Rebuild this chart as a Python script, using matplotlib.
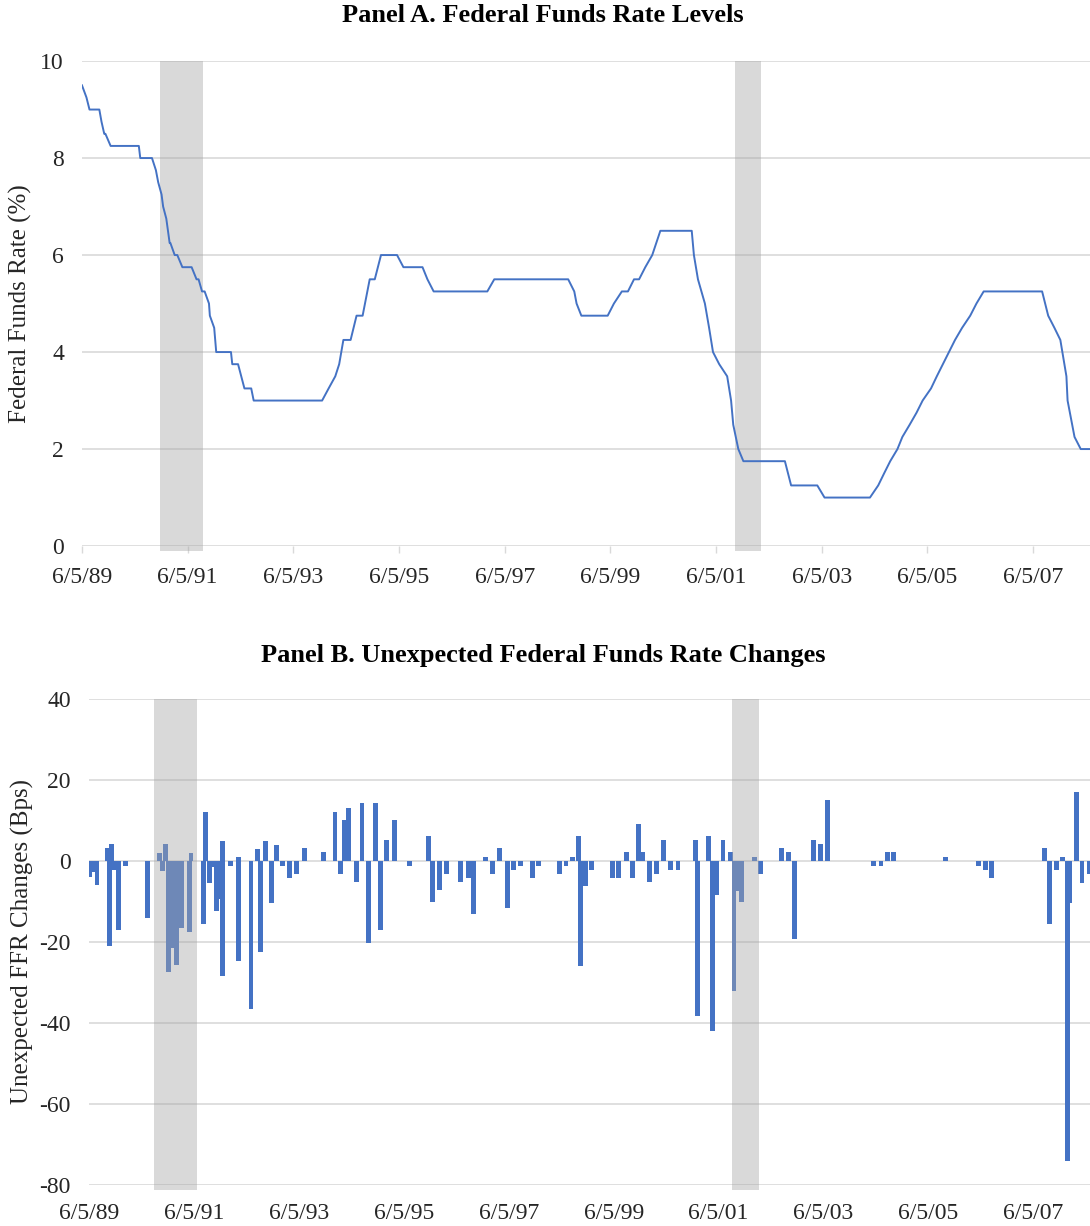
import datetime as dt
import numpy as np
import matplotlib
matplotlib.use("Agg")
import matplotlib.pyplot as plt

plt.rcParams['font.family'] = ['Liberation Serif', 'DejaVu Serif']
plt.rcParams['axes.unicode_minus'] = False

# Panel A: federal funds target rate (%) at FOMC meetings / changes
rate_dates = ["1989-06-05", "1989-07-06", "1989-07-27", "1989-08-22", "1989-10-03",
              "1989-10-18", "1989-11-06", "1989-11-14", "1989-12-20", "1990-07-03",
              "1990-07-13", "1990-10-02", "1990-10-29", "1990-11-14", "1990-12-07",
              "1990-12-18", "1991-01-09", "1991-02-01", "1991-02-06", "1991-03-08",
              "1991-03-26", "1991-04-30", "1991-07-03", "1991-08-06", "1991-08-20",
              "1991-09-13", "1991-10-01", "1991-10-31", "1991-11-06", "1991-12-06",
              "1991-12-20", "1992-03-31", "1992-04-09", "1992-05-19", "1992-07-02",
              "1992-08-18", "1992-09-04", "1993-12-21", "1994-02-04", "1994-03-22",
              "1994-04-18", "1994-05-17", "1994-07-06", "1994-08-16", "1994-09-27",
              "1994-11-15", "1994-12-20", "1995-02-01", "1995-05-23", "1995-07-06",
              "1995-11-15", "1995-12-19", "1996-01-31", "1997-02-05", "1997-03-25",
              "1998-08-18", "1998-09-29", "1998-10-15", "1998-11-17", "1999-05-18",
              "1999-06-30", "1999-08-24", "1999-10-05", "1999-11-16", "1999-12-21",
              "2000-02-02", "2000-03-21", "2000-05-16", "2000-12-19", "2001-01-03",
              "2001-01-31", "2001-03-20", "2001-04-18", "2001-05-15", "2001-06-27",
              "2001-08-21", "2001-09-17", "2001-10-02", "2001-11-06", "2001-12-11",
              "2002-09-24", "2002-11-06", "2003-05-06", "2003-06-25", "2004-05-04",
              "2004-06-30", "2004-08-10", "2004-09-21", "2004-11-10", "2004-12-14",
              "2005-02-02", "2005-03-22", "2005-05-03", "2005-06-30", "2005-08-09",
              "2005-09-20", "2005-11-01", "2005-12-13", "2006-01-31", "2006-03-28",
              "2006-05-10", "2006-06-29", "2007-08-07", "2007-09-18", "2007-10-31",
              "2007-12-11", "2008-01-22", "2008-01-30", "2008-03-18", "2008-04-30",
              "2008-07-02"]
rate_vals = [9.5, 9.25, 9.0, 9.0, 9.0,
             8.75, 8.5, 8.5, 8.25, 8.25,
             8.0, 8.0, 7.75, 7.5, 7.25,
             7.0, 6.75, 6.25, 6.25, 6.0,
             6.0, 5.75, 5.75, 5.5, 5.5,
             5.25, 5.25, 5.0, 4.75, 4.5,
             4.0, 4.0, 3.75, 3.75, 3.25,
             3.25, 3.0, 3.0, 3.25, 3.5,
             3.75, 4.25, 4.25, 4.75, 4.75,
             5.5, 5.5, 6.0, 6.0, 5.75,
             5.75, 5.5, 5.25, 5.25, 5.5,
             5.5, 5.25, 5.0, 4.75, 4.75,
             5.0, 5.25, 5.25, 5.5, 5.5,
             5.75, 6.0, 6.5, 6.5, 6.0,
             5.5, 5.0, 4.5, 4.0, 3.75,
             3.5, 3.0, 2.5, 2.0, 1.75,
             1.75, 1.25, 1.25, 1.0, 1.0,
             1.25, 1.5, 1.75, 2.0, 2.25,
             2.5, 2.75, 3.0, 3.25, 3.5,
             3.75, 4.0, 4.25, 4.5, 4.75,
             5.0, 5.25, 5.25, 4.75, 4.5,
             4.25, 3.5, 3.0, 2.25, 2.0,
             2.0]

# Panel B: unexpected changes in the funds rate (bps)
surprise_dates = ["1989-06-10", "1989-07-09", "1989-07-30", "1989-10-09", "1989-10-23",
                  "1989-11-11", "1989-11-20", "1989-12-24", "1990-02-12", "1990-07-18",
                  "1990-10-06", "1990-10-27", "1990-11-19", "1990-12-13", "1991-01-05",
                  "1991-02-04", "1991-03-12", "1991-05-04", "1991-05-16", "1991-08-10",
                  "1991-08-24", "1991-09-19", "1991-10-15", "1991-11-07", "1991-12-05",
                  "1991-12-18", "1991-12-22", "1992-02-12", "1992-04-10", "1992-04-13",
                  "1992-07-06", "1992-08-21", "1992-09-10", "1992-10-14", "1992-11-25",
                  "1992-12-28", "1993-02-09", "1993-03-30", "1993-05-22", "1993-07-14",
                  "1993-11-22", "1994-02-11", "1994-03-24", "1994-04-20", "1994-05-19",
                  "1994-07-09", "1994-08-18", "1994-10-04", "1994-11-20", "1994-12-24",
                  "1995-02-05", "1995-04-01", "1995-07-13", "1995-11-24", "1995-12-23",
                  "1996-02-09", "1996-03-30", "1996-07-06", "1996-08-27", "1996-10-01",
                  "1996-12-26", "1997-02-11", "1997-04-01", "1997-05-25", "1997-07-08",
                  "1997-08-28", "1997-11-20", "1997-12-28", "1998-05-23", "1998-07-08",
                  "1998-08-23", "1998-10-04", "1998-10-20", "1998-11-24", "1999-01-01",
                  "1999-05-26", "1999-07-07", "1999-09-01", "1999-10-13", "1999-11-27",
                  "1999-12-26", "2000-02-10", "2000-03-29", "2000-05-20", "2000-07-06",
                  "2000-08-26", "2000-12-28", "2001-01-11", "2001-03-29", "2001-04-22",
                  "2001-05-20", "2001-07-05", "2001-08-28", "2001-09-20", "2001-10-14",
                  "2001-11-11", "2002-02-08", "2002-03-25", "2002-08-19", "2002-10-02",
                  "2002-11-13", "2003-03-27", "2003-05-12", "2003-07-03", "2004-05-16",
                  "2004-07-09", "2004-08-25", "2004-10-03", "2005-10-01", "2006-05-20",
                  "2006-07-08", "2006-08-19", "2007-08-19", "2007-09-28", "2007-11-11",
                  "2007-12-22", "2008-01-31", "2008-02-12", "2008-03-29", "2008-05-08",
                  "2008-06-30"]
surprise_bps = [-4, -2.7, -6, 3.3, -21,
                4.3, -2.3, -17, -1.3, -14,
                2, -2.4, 4.3, -27.5, -21.5,
                -25.7, -16.5, -17.5, 2, -15.6,
                12, -5.4, -1.5, -12.4, -9.5,
                5, -28.5, -1.2, 1, -24.6,
                -36.5, 3, -22.5, 5, -10.4,
                4, -1.2, -4.2, -3.3, 3.1,
                2.1, 12.2, -3.3, 10.2, 13.2,
                -5.3, 14.2, -20.2, 14.2, -17,
                5.1, 10.2, -1.2, 6.1, -10.2,
                -7.1, -3.2, -5.2, -4.1, -13.1,
                1.1, -3.3, 3.1, -11.6, -2.2,
                -1.2, -4.2, -1.3, -3.3, -1.3,
                1.1, 6.1, -26, -6.2, -2.2,
                -4.1, -4.1, 2.1, -4.1, 9.2,
                2.1, -5.2, -3.2, 5.1, -2.2,
                -2.2, 5.1, -38.3, 6.1, -42,
                -8.3, 5.1, 2.1, -32, -7.3,
                -10.2, 1.1, -3.2, 3.1, 2.1,
                -19.3, 5.1, 4.1, 15.1, -1.2,
                -1.2, 2.1, 2.1, 1, -1.2,
                -2.3, -4.3, 3.1, -15.6, -2.3,
                1, -74, -10.4, 17, -5.4,
                -3.3]

recessions_a = [("1990-11-26", "1991-09-20"), ("2001-10-14", "2002-04-10")]
recessions_b = [("1990-08-31", "1991-06-27"), ("2001-09-05", "2002-03-11")]

tick_dates = [dt.date(y, 6, 5) for y in range(1989, 2009, 2)]
tick_labels = [f"{d.month}/{d.day}/{d:%y}" for d in tick_dates]

blue = '#4472C4'
grid = '#D9D9D9'
shade = (0.655, 0.655, 0.655)
txt = '#262626'


def to_dates(lst):
    return [dt.datetime.strptime(s, "%Y-%m-%d") for s in lst]


def style(ax):
    for s in ax.spines.values():
        s.set_visible(False)
    ax.grid(axis='y', color=grid, lw=1.2, zorder=0)
    ax.set_axisbelow(True)
    ax.set_xlim(dt.datetime(1989, 6, 5), dt.datetime(2008, 7, 3))
    ax.set_xticks(tick_dates)
    ax.set_xticklabels(tick_labels)
    ax.tick_params(axis='y', length=0, pad=13, labelsize=17, labelcolor=txt)


fig = plt.figure(figsize=(10.9, 12.26), dpi=100)

# Panel A
axA = fig.add_axes([0.0752, 0.5546, 0.9248, 0.3956])
style(axA)
axA.plot(to_dates(rate_dates), rate_vals, color=blue, lw=1.4, zorder=4)
for a, b in recessions_a:
    axA.axvspan(dt.datetime.fromisoformat(a), dt.datetime.fromisoformat(b),
                ymin=-0.01, ymax=1, color=shade, alpha=0.43, lw=0, zorder=3, clip_on=False)
axA.set_ylim(0, 10)
axA.set_yticks(np.arange(0, 11, 2))
axA.tick_params(axis='x', length=5, width=1, color=grid, pad=10, labelsize=17, labelcolor=txt)
axA.set_ylabel('Federal Funds Rate (%)', fontsize=18, color=txt, labelpad=6)
fig.text(0.498, 0.987, 'Panel A. Federal Funds Rate Levels', fontsize=19,
         fontweight='bold', ha='center', va='center')

# Panel B
axB = fig.add_axes([0.0817, 0.0334, 0.9183, 0.3965])
style(axB)
axB.bar(to_dates(surprise_dates), surprise_bps, width=34, color=blue, zorder=2)
for a, b in recessions_b:
    axB.axvspan(dt.datetime.fromisoformat(a), dt.datetime.fromisoformat(b),
                ymin=-0.01, ymax=1, color=shade, alpha=0.43, lw=0, zorder=3, clip_on=False)
axB.set_ylim(-80, 40)
axB.set_yticks(np.arange(-80, 41, 20))
axB.tick_params(axis='x', length=0, pad=13, labelsize=17, labelcolor=txt)
axB.set_ylabel('Unexpected FFR Changes (Bps)', fontsize=18, color=txt, labelpad=4)
fig.text(0.498, 0.4657, 'Panel B. Unexpected Federal Funds Rate Changes', fontsize=19,
         fontweight='bold', ha='center', va='center')

fig.savefig('out.png', dpi=100)
